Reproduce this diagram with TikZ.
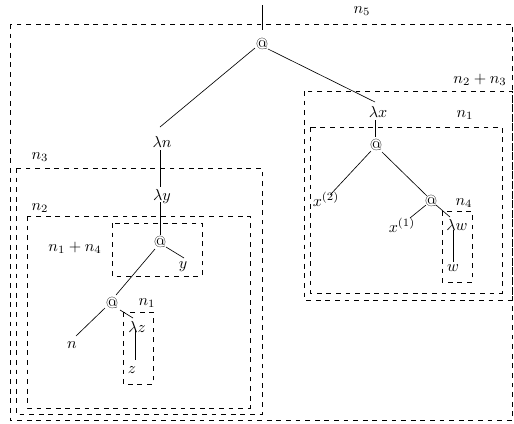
\documentclass[tikz,border=0pt]{standalone}
\usetikzlibrary{calc}
\begin{document}
\begin{tikzpicture}[x=0.625pt,y=-0.625pt,
  tn/.style={inner sep=0.8pt},
  box/.style={draw,dashed},
  lab/.style={inner sep=0pt},
  edge/.style={draw}]
\useasboundingbox (0,0) rectangle (514,423);
% boxes
\draw[box] (10,24) rectangle (512.5,420);
\draw[box] (304,91) rectangle (512,300);
\draw[box] (310,127) rectangle (502,293);
\draw[box] (442,211) rectangle (472,282);
\draw[box] (16,168) rectangle (262,414);
\draw[box] (27,216) rectangle (250,408);
\draw[box] (112,223) rectangle (202,276);
\draw[box] (123,312) rectangle (153,384);
% labels
\node[lab] (l5) at (362,11) {$n_5$};
\node[lab] (l23) at (480,80) {$n_2+n_3$};
\node[lab] (l1r) at (465,115) {$n_1$};
\node[lab] (l4) at (464,203) {$n_4$};
\node[lab] (l3) at (40,157) {$n_3$};
\node[lab] (l2) at (40,208) {$n_2$};
\node[lab] (l14) at (75,248) {$n_1+n_4$};
\node[lab] (l1l) at (147,303) {$n_1$};
% tree nodes
\coordinate (top) at (262,5);
\node[tn] (r) at (262,44) {@};
\node[tn] (ln) at (162,142) {$\lambda n$};
\node[tn] (ly) at (162,196) {$\lambda y$};
\node[tn] (a1) at (160,242) {@};
\node[tn] (y) at (183,267) {$y$};
\node[tn] (a2) at (112,303) {@};
\node[tn] (n) at (72,345) {$n$};
\node[tn] (lz) at (137,327) {$\lambda z$};
\node[tn] (z) at (132,370) {$z$};
\node[tn] (lx) at (378,112) {$\lambda x$};
\node[tn] (a3) at (376,145) {@};
\node[tn] (x2) at (326,199) {$x^{(2)}$};
\node[tn] (a4) at (431,201) {@};
\node[tn] (x1) at (402,225) {$x^{(1)}$};
\node[tn] (lw) at (457,225) {$\lambda w$};
\node[tn] (w) at (453,268) {$w$};
% edges
\draw[edge] (top) -- ($(r)+(0,-14)$);
\draw[edge] ($(r)+(-7,4)$) -- ($(ln)+(-2,-15)$);
\draw[edge] ($(r)+(6,5)$) -- ($(lx)+(-3,-10)$);
\draw[edge] ($(ln)+(-2,8)$) -- ($(ly)+(-2,-9)$);
\draw[edge] ($(ly)+(-2,6)$) -- ($(a1)+(0,-7)$);
\draw[edge] ($(a1)+(6,5)$) -- ($(y)+(1,-9)$);
\draw[edge] ($(a1)+(-5,7)$) -- ($(a2)+(4,-8)$);
\draw[edge] ($(a2)+(-7,5)$) -- ($(n)+(4,-9)$);
\draw[edge] ($(a2)+(8,7)$) -- ($(lz)+(-4,-9)$);
\draw[edge] ($(lz)+(-2,3)$) -- ($(z)+(3,-10)$);
\draw[edge] ($(lx)+(-3,8)$) -- ($(a3)+(-1,-8)$);
\draw[edge] ($(a3)+(-5,6)$) -- ($(x2)+(4,-4)$);
\draw[edge] ($(a3)+(6,7)$) -- ($(a4)+(-4,-5)$);
\draw[edge] ($(a4)+(-5,4)$) -- ($(x1)+(8,-7)$);
\draw[edge] ($(a4)+(5,4)$) -- ($(lw)+(-7,-8)$);
\draw[edge] ($(lw)+(-4,5)$) -- ($(w)+(0,-6)$);
\end{tikzpicture}
\end{document}
